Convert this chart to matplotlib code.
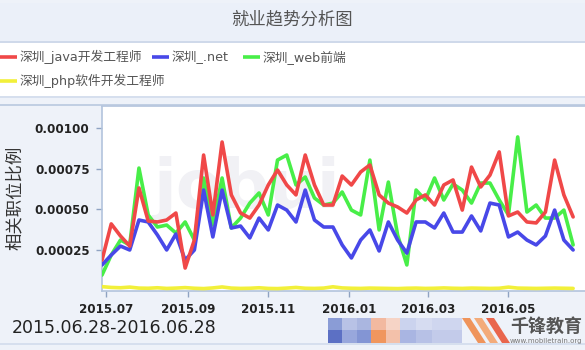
import matplotlib
matplotlib.use("Agg")
import matplotlib.pyplot as plt
import matplotlib.dates as mdates
from matplotlib.lines import Line2D
from matplotlib.patches import Rectangle, Polygon
import pandas as pd

# weekly share of job postings, Shenzhen
weeks = pd.date_range("2015-06-28", periods=52, freq="7D")

java = [18.8e-5, 41.0e-5, 33.6e-5, 27.4e-5, 63.1e-5, 42.8e-5, 42.2e-5, 43.4e-5, 47.7e-5, 13.9e-5,
        31.1e-5, 83.3e-5, 46.5e-5, 91.3e-5, 58.8e-5, 47.7e-5, 44.6e-5, 52.6e-5, 64.9e-5, 74.1e-5,
        64.9e-5, 58.8e-5, 83.3e-5, 64.9e-5, 52.6e-5, 52.6e-5, 70.4e-5, 64.9e-5, 72.9e-5, 77.2e-5,
        58.8e-5, 53.8e-5, 51.4e-5, 47.7e-5, 55.7e-5, 58.8e-5, 52.6e-5, 64.9e-5, 68.0e-5, 49.5e-5,
        75.9e-5, 63.7e-5, 71.0e-5, 85.2e-5, 45.9e-5, 48.3e-5, 42.2e-5, 41.6e-5, 48.3e-5, 80.2e-5,
        58.8e-5, 45.3e-5]

dotnet = [15.8e-5, 21.9e-5, 27.4e-5, 25.0e-5, 43.4e-5, 42.2e-5, 34.2e-5, 25.0e-5, 34.8e-5, 18.8e-5,
          25.0e-5, 61.8e-5, 33.0e-5, 61.8e-5, 38.5e-5, 39.7e-5, 32.4e-5, 44.6e-5, 37.3e-5, 52.6e-5,
          49.5e-5, 42.2e-5, 61.8e-5, 43.4e-5, 39.1e-5, 39.1e-5, 28.1e-5, 20.1e-5, 31.1e-5, 37.3e-5,
          24.4e-5, 42.2e-5, 31.1e-5, 23.1e-5, 42.2e-5, 42.2e-5, 38.5e-5, 47.7e-5, 36.0e-5, 36.0e-5,
          45.9e-5, 36.7e-5, 53.8e-5, 52.6e-5, 33.0e-5, 36.0e-5, 31.1e-5, 28.1e-5, 33.6e-5, 49.5e-5,
          31.1e-5, 25.0e-5]

web = [9.6e-5, 21.9e-5, 31.1e-5, 28.1e-5, 75.3e-5, 46.5e-5, 39.1e-5, 40.3e-5, 35.4e-5, 42.2e-5,
       31.1e-5, 69.2e-5, 40.3e-5, 69.2e-5, 38.5e-5, 44.6e-5, 53.8e-5, 60.0e-5, 46.5e-5, 80.2e-5,
       83.3e-5, 64.9e-5, 69.8e-5, 56.9e-5, 52.6e-5, 53.8e-5, 60.6e-5, 49.5e-5, 46.5e-5, 80.2e-5,
       37.3e-5, 66.7e-5, 34.2e-5, 15.8e-5, 61.8e-5, 55.7e-5, 69.2e-5, 55.7e-5, 65.5e-5, 61.8e-5,
       53.8e-5, 66.1e-5, 66.1e-5, 55.7e-5, 46.5e-5, 94.4e-5, 48.3e-5, 52.6e-5, 44.6e-5, 44.6e-5,
       49.5e-5, 28.1e-5]

php = [2.5e-5, 2.0e-5, 1.8e-5, 2.2e-5, 1.6e-5, 1.5e-5, 1.8e-5, 1.4e-5, 1.6e-5, 1.9e-5,
       1.5e-5, 1.3e-5, 1.7e-5, 2.3e-5, 1.6e-5, 1.4e-5, 1.5e-5, 1.8e-5, 1.4e-5, 1.3e-5,
       1.6e-5, 2.0e-5, 1.5e-5, 1.4e-5, 1.6e-5, 2.4e-5, 1.7e-5, 1.5e-5, 1.4e-5, 1.6e-5,
       1.5e-5, 1.4e-5, 1.3e-5, 1.5e-5, 1.6e-5, 1.4e-5, 1.5e-5, 1.7e-5, 1.5e-5, 1.4e-5,
       1.6e-5, 1.5e-5, 1.4e-5, 1.5e-5, 2.2e-5, 1.6e-5, 1.5e-5, 1.4e-5, 1.5e-5, 1.6e-5,
       1.5e-5, 1.4e-5]

series_names = ["深圳_java开发工程师", "深圳_.net", "深圳_web前端", "深圳_php软件开发工程师"]
series_colors = ["#f04848", "#4848e8", "#48ee48", "#f2f03a"]
y_ticks = [0.00025, 0.00050, 0.00075, 0.00100]
x_ticks = ["2015-07-01", "2015-09-01", "2015-11-01", "2016-01-01", "2016-03-01", "2016-05-01"]

CJK = ["DejaVu Sans", "Noto Sans CJK SC"]
W, H = 585, 350


def fx(x):
    return x / W


def fy(y):
    return 1 - y / H


fig = plt.figure(figsize=(W / 100, H / 100), dpi=100)
fig.patch.set_facecolor("#eef2f9")

# header band, legend band, separators
fig.patches.append(Rectangle((0, fy(41)), 1, fy(3) - fy(41), transform=fig.transFigure,
                             facecolor="#ebf0f9", edgecolor="none", zorder=0))
fig.patches.append(Rectangle((0, fy(96)), 1, fy(43) - fy(96), transform=fig.transFigure,
                             facecolor="white", edgecolor="none", zorder=0))
for yy, c in [(41.5, "#c9d5e8"), (96.5, "#d2dcec"), (105, "#b9c8df"), (343.5, "#d2dcec")]:
    fig.add_artist(Line2D([0, 1], [fy(yy), fy(yy)], transform=fig.transFigure,
                          color=c, lw=1.2, zorder=1))

fig.text(fx(292), fy(19), "就业趋势分析图", ha="center", va="center",
         fontsize=12.5, color="#555555", family=CJK)

# legend, laid out in two rows
legend_items = [(0, 57, 0), (152, 57, 1), (243, 57, 2), (0, 81, 3)]
for lx, ly, i in legend_items:
    fig.add_artist(Line2D([fx(lx), fx(lx + 17)], [fy(ly), fy(ly)], transform=fig.transFigure,
                          color=series_colors[i], lw=2.6, solid_capstyle="butt"))
    fig.text(fx(lx + 20), fy(ly), series_names[i], ha="left", va="center",
             fontsize=9.2, color="#555555", family=CJK)

ax = fig.add_axes([fx(102), fy(290.7), fx(585 - 102), fy(106) - fy(290.7)])
ax.set_facecolor("white")

# faint site watermark
ax.text(0.3, 0.55, "jobui", transform=ax.transAxes, fontsize=48, fontweight="bold",
        color="#f1f1f5", ha="center", va="center", zorder=0)

for vals, c, name in zip([php, web, dotnet, java], series_colors[::-1], series_names[::-1]):
    ax.plot(weeks, vals, color=c, lw=2.6, solid_joinstyle="round", solid_capstyle="round",
            label=name, zorder=3)

ax.set_xlim(pd.Timestamp("2015-06-28"), pd.Timestamp("2016-06-28"))
ax.set_ylim(0, 0.001134)
ax.set_yticks(y_ticks)
ax.yaxis.set_major_formatter(matplotlib.ticker.FormatStrFormatter("%.5f"))
ax.set_xticks(pd.to_datetime(x_ticks))
ax.xaxis.set_major_formatter(mdates.DateFormatter("%Y.%m"))
ax.tick_params(axis="both", length=4, width=1, color="#8fa3c2", labelsize=8.6,
               labelcolor="#222222", pad=5)
for lab in ax.get_xticklabels() + ax.get_yticklabels():
    lab.set_fontweight("bold")
for sp in ax.spines.values():
    sp.set_color("#b3c4dd")
    sp.set_linewidth(1.2)
ax.spines["right"].set_visible(False)

ax.set_ylabel("相关职位比例", family=CJK, fontsize=12.5, color="#333333", labelpad=8)

fig.text(fx(12), fy(328), "2015.06.28-2016.06.28", ha="left", va="center",
         fontsize=12.5, color="#222222")

# blurred thumbnail strip at the bottom
mosaic = [
    (328, 318, 14, 12, "#8a9cd6"), (342, 318, 15, 12, "#b8c2e6"), (357, 318, 14, 12, "#aab6e0"),
    (371, 318, 15, 12, "#f2b9a0"), (386, 318, 14, 12, "#f6d4c6"), (400, 318, 16, 12, "#cbd3ee"),
    (416, 318, 16, 12, "#d6dcf1"), (432, 318, 30, 12, "#cfd6ef"),
    (328, 330, 14, 13, "#5c70c4"), (342, 330, 15, 13, "#98a7dc"), (357, 330, 14, 13, "#8395d4"),
    (371, 330, 15, 13, "#f0965e"), (386, 330, 14, 13, "#f3c1aa"), (400, 330, 16, 13, "#a9b5e2"),
    (416, 330, 16, 13, "#b7c1e6"), (432, 330, 30, 13, "#c3cbea"),
]
for x0, y0, w0, h0, c in mosaic:
    fig.patches.append(Rectangle((fx(x0), fy(y0 + h0)), fx(w0), fy(y0) - fy(y0 + h0),
                                 transform=fig.transFigure, facecolor=c, edgecolor="none"))

# logo stripes and name
for off, c in [(0, "#f08a4a"), (12, "#f4a46c"), (24, "#e9573a")]:
    pts = [(462 + off, 318), (470 + off, 318), (486 + off, 343), (478 + off, 343)]
    fig.patches.append(Polygon([(fx(a), fy(b)) for a, b in pts], closed=True,
                               transform=fig.transFigure, facecolor=c, edgecolor="none",
                               alpha=0.9))
fig.text(fx(546), fy(327), "千锋教育", ha="center", va="center", fontsize=13,
         fontweight="bold", color="#555555", family=CJK)
fig.text(fx(546), fy(341), "www.mobiletrain.org", ha="center", va="center", fontsize=5,
         color="#777777")

fig.savefig("out.png", dpi=100, facecolor=fig.get_facecolor())
